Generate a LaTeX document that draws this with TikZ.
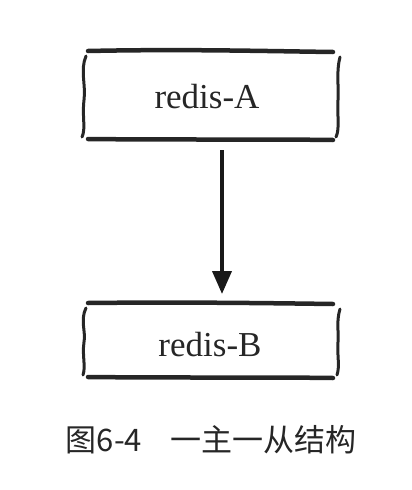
\documentclass[tikz,border=0pt]{standalone}
\usepackage{fontspec}
\setmainfont{Liberation Serif}
\newfontfamily\cjk{Noto Sans CJK SC}
\usetikzlibrary{arrows.meta}
\begin{document}
\begin{tikzpicture}[x=1pt,y=-1pt,
  edge/.style={line width=4.5pt,line cap=round,black!85},
  side/.style={line width=3pt,line cap=round,black!85},
  lbl/.style={font=\fontsize{35}{40}\selectfont,text=black!85},
  conn/.style={line width=3.8pt,black!90,-{Triangle[width=19pt,length=23pt]}}]
\useasboundingbox (0,0) rectangle (412,490);
% box A
\draw[edge] (88,51) .. controls (180,49) and (260,51) .. (333,52);
\draw[edge] (88,139) .. controls (180,140) and (260,139) .. (333,140);
\draw[side] (86,56) .. controls (80,70) and (86,85) .. (84,100) .. controls (82,118) and (86,128) .. (82,137);
\draw[side] (340,57) .. controls (336,72) and (339,88) .. (338,100) .. controls (337,115) and (340,128) .. (336,137);
\node[lbl] (a) at (207,97) {redis-A};
% box B
\draw[edge] (88,303) .. controls (180,302) and (260,303) .. (333,304);
\draw[edge] (88,377) .. controls (180,378) and (260,377) .. (333,378);
\draw[side] (86,308) .. controls (80,320) and (86,332) .. (84,342) .. controls (82,356) and (86,366) .. (83,375);
\draw[side] (340,309) .. controls (336,322) and (339,333) .. (338,342) .. controls (337,355) and (340,366) .. (337,375);
\node[lbl] (b) at (210,345) {redis-B};
\coordinate (s) at (222,150);
\coordinate (t) at (222,294);
\draw[conn] (s) -- (t);
\node[font=\fontsize{31}{36}\selectfont\cjk,text=black!85] (cap) at (211,440) {图6-4\hspace{0.9em}一主一从结构};
\end{tikzpicture}
\end{document}
